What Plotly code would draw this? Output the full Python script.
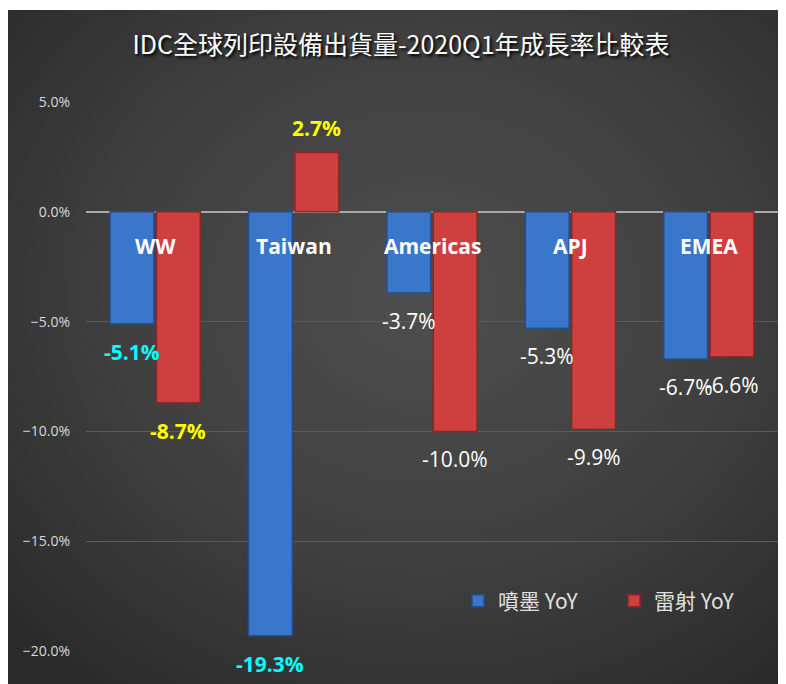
import base64
import plotly.graph_objects as go

categories = ["WW", "Taiwan", "Americas", "APJ", "EMEA"]
inkjet_yoy = [-0.051, -0.193, -0.037, -0.053, -0.067]
laser_yoy = [-0.087, 0.027, -0.100, -0.099, -0.066]
inkjet_label_colors = ["#00FFFF", "#00FFFF", "#FFFFFF", "#FFFFFF", "#FFFFFF"]
laser_label_colors = ["#FFFF00", "#FFFF00", "#FFFFFF", "#FFFFFF", "#FFFFFF"]
inkjet_label_bold = [True, True, False, False, False]
laser_label_bold = [True, True, False, False, False]
series_names = ["噴墨 YoY", "雷射 YoY"]
title_text = "IDC全球列印設備出貨量-2020Q1年成長率比較表"
y_ticks = [-0.20, -0.15, -0.10, -0.05, 0.0, 0.05]

W, H = 786, 684
L, R, T, B = 78, 16, 94, 41
pw, ph = W - L - R, H - T - B
TOPGAP = 2

# radial gradient background as svg image
svg = f'''<svg xmlns="http://www.w3.org/2000/svg" width="786" height="682" viewBox="0 0 786 682" preserveAspectRatio="none">
<defs><radialGradient id="g" cx="0.53" cy="0.42" r="0.72">
<stop offset="0" stop-color="#4e4e4e"/><stop offset="0.55" stop-color="#3f3f3f"/><stop offset="1" stop-color="#2a2a2a"/>
</radialGradient></defs><rect width="786" height="682" fill="url(#g)"/></svg>'''
src = "data:image/svg+xml;base64," + base64.b64encode(svg.encode()).decode()

fig = go.Figure()
fig.add_trace(go.Bar(
    x=categories, y=inkjet_yoy, name=series_names[0], legend="legend",
    marker=dict(color="#3a76c9", line=dict(color="#22508c", width=1.5)),
    hoverinfo="skip",
))
fig.add_trace(go.Bar(
    x=categories, y=laser_yoy, name=series_names[1], legend="legend2",
    marker=dict(color="#cf3f3f", line=dict(color="#8c2727", width=1.5)),
    hoverinfo="skip",
))

LATIN = "Open Sans, Noto Sans, sans-serif"
annotations = []
for c in categories:
    annotations.append(dict(
        x=c, y=0, xref="x", yref="y", text=f"<b>{c}</b>", showarrow=False,
        yshift=-34, font=dict(family=LATIN, size=21, color="white"),
    ))


def add_labels(vals, colors, bolds, offset):
    for c, v, col, b in zip(categories, vals, colors, bolds):
        txt = f"{v*100:.1f}%"
        if b:
            txt = f"<b>{txt}</b>"
        annotations.append(dict(
            x=c, y=v, xref="x", yref="y", text=txt, showarrow=False,
            xshift=offset, yshift=(25 if v > 0 else -28),
            font=dict(family=LATIN, size=21, color=col),
        ))


bar_offset = (pw / len(categories)) * (1 - 0.33) / 4
add_labels(inkjet_yoy, inkjet_label_colors, inkjet_label_bold, -bar_offset)
add_labels(laser_yoy, laser_label_colors, laser_label_bold, bar_offset)

legend_font = dict(family="Noto Sans CJK TC, sans-serif", size=21, color="#e0e0e0")
legend_y = (H - B - 593) / ph

fig.update_layout(
    width=W, height=H,
    margin=dict(l=L, r=R, t=T, b=B, pad=0),
    paper_bgcolor="white",
    plot_bgcolor="rgba(0,0,0,0)",
    barmode="group", bargap=0.33, bargroupgap=0.055,
    title=dict(
        text=title_text, x=0.5, xanchor="center", y=1 - 37 / H, yanchor="middle",
        yref="container",
        font=dict(family="Noto Sans CJK TC, sans-serif", size=25, color="white",
                  shadow="2px 2px 3px #000000"),
    ),
    images=[dict(
        source=src, xref="paper", yref="paper",
        x=-L / pw, y=(H - B - TOPGAP) / ph,
        sizex=W / pw, sizey=(H - TOPGAP) / ph,
        xanchor="left", yanchor="top", sizing="stretch", layer="below",
    )],
    xaxis=dict(
        showticklabels=False, showgrid=False, zeroline=False, showline=False,
        ticks="", fixedrange=True,
    ),
    yaxis=dict(
        range=[-0.20, 0.05], tickvals=y_ticks, tickformat=".1%",
        showgrid=True, gridcolor="#5c5c5c", gridwidth=1.2,
        zeroline=True, zerolinecolor="#a8a8a8", zerolinewidth=1.8,
        showline=False, ticks="", ticklabelstandoff=15,
        tickfont=dict(family=LATIN, size=14, color="#d8d8d8"),
    ),
    legend=dict(
        orientation="h", x=(450 - L) / pw, xanchor="left",
        y=legend_y, yanchor="middle", bgcolor="rgba(0,0,0,0)", font=legend_font,
    ),
    legend2=dict(
        orientation="h", x=(606 - L) / pw, xanchor="left",
        y=legend_y, yanchor="middle", bgcolor="rgba(0,0,0,0)", font=legend_font,
    ),
    annotations=annotations,
    showlegend=True,
)

fig.write_html("out.html")
